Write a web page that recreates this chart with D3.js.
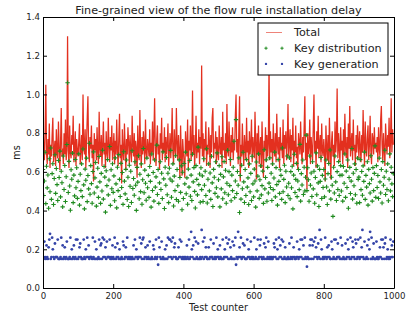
<!DOCTYPE html>
<html>
<head>
<meta charset="utf-8">
<script src="https://cdn.jsdelivr.net/npm/d3@7"></script>
<style>
  body { margin: 0; background: #fff; }
  svg { display: block; font-family: "DejaVu Sans", sans-serif; }
</style>
</head>
<body>
<div id="chart"></div>
<script>
// one sample every `step` test counters
const step = 2;

// total delay, 1/100 ms
const total = [
  90,72,66,81,105,70,64,77,69,85,62,74,68,79,88,65,71,76,63,82,70,67,86,73,61,
  75,93,68,72,64,80,69,87,66,71,130,73,62,84,70,67,79,74,89,65,72,81,63,77,70,
  68,76,85,64,71,79,66,100,73,69,82,62,75,88,99,70,65,78,72,84,67,74,55,80,71,
  77,66,83,70,64,91,72,68,79,63,74,86,69,75,62,81,70,67,88,73,65,78,71,84,66,
  72,80,64,76,69,87,71,63,78,90,67,74,54,82,70,66,85,73,61,77,69,83,75,64,79,
  71,65,89,74,68,80,63,76,72,57,84,70,66,92,73,62,78,69,81,75,64,87,70,67,77,
  73,68,82,64,75,70,86,66,79,98,71,63,77,84,69,74,61,80,72,88,66,75,70,83,65,
  78,69,74,85,63,71,80,67,76,93,70,64,82,72,68,93,75,66,79,71,57,84,69,58,77,
  70,65,57,81,73,68,87,62,76,71,84,66,74,102,69,79,63,72,89,67,75,70,82,64,78,
  72,115,68,80,65,77,71,86,63,74,69,83,76,62,79,70,88,93,67,75,72,81,64,78,70,
  66,84,73,69,78,62,91,71,75,67,80,64,95,72,68,86,74,63,79,70,83,66,76,71,89,
  100,70,77,64,82,99,55,74,68,85,71,63,79,73,66,88,70,76,62,81,69,74,87,65,78,
  72,67,91,75,56,80,69,84,64,73,78,62,86,70,57,76,71,83,65,79,68,74,118,66,81,
  70,77,63,85,72,68,80,65,90,74,69,78,62,83,71,75,67,87,64,79,72,81,66,76,95,
  68,74,82,65,79,71,88,63,76,70,84,67,73,61,80,75,69,86,72,64,78,70,83,99,66,
  75,51,80,69,73,87,64,78,71,66,83,100,70,76,62,81,72,89,67,74,79,65,85,71,68,
  77,70,55,84,73,66,79,64,88,72,56,75,81,68,74,63,86,70,77,103,67,80,72,65,83,
  71,76,64,82,69,90,73,67,78,62,85,72,94,68,75,80,66,87,71,74,63,79,70,84,76,
  67,81,73,65,79,70,92,75,63,86,72,68,78,84,66,74,89,71,64,80,77,69,83,72,75,
  70,78,65,83,72,68,87,94,74,66,80,71,63,85,76,69,79,73,88,67,75,98,70,82,74
];

// key distribution, 1/1000 ms
const keyDistribution = [
  612,478,553,701,436,629,517,584,412,668,497,723,458,591,642,431,566,688,489,617,534,452,659,571,707,
  471,603,544,419,682,509,633,447,575,741,1060,493,654,527,402,611,562,697,441,583,476,664,518,621,463,
  551,693,428,588,503,641,472,718,533,409,614,557,671,446,581,512,748,484,632,539,438,602,703,491,569,
  648,423,521,619,468,679,548,437,592,501,712,459,628,573,392,606,529,663,481,558,731,427,611,513,642,
  494,579,451,672,538,414,624,503,689,561,473,644,519,597,432,704,552,486,613,661,457,572,421,634,526,
  603,442,709,514,566,479,652,531,401,623,547,683,461,588,498,641,433,559,721,492,609,541,453,671,518,
  582,468,628,551,418,692,504,597,449,661,521,574,738,483,612,437,543,652,509,593,462,703,564,411,624,
  531,674,482,593,441,619,563,711,469,552,641,424,578,503,683,457,612,528,448,662,571,494,631,404,598,
  462,643,538,702,487,569,433,614,521,659,474,583,452,691,548,622,499,413,632,561,481,728,534,589,443,
  621,508,579,447,668,531,603,478,719,439,562,641,502,594,458,681,543,421,613,572,489,652,518,698,471,
  559,632,419,587,512,678,461,574,653,492,608,438,541,712,482,601,529,664,451,583,503,624,758,467,553,
  870,488,602,531,672,390,581,459,634,513,701,548,442,612,478,663,521,569,431,641,497,592,452,681,538,
  471,614,553,418,651,502,578,693,463,559,631,481,529,604,437,714,512,571,662,448,623,491,542,672,519,
  593,452,641,508,568,702,471,622,534,428,663,551,489,611,582,458,723,497,561,634,441,603,522,682,478,
  541,672,461,601,518,629,409,583,691,493,561,644,472,553,612,508,742,449,591,532,661,483,624,501,572,
  790,503,621,559,448,682,531,594,473,652,512,603,438,571,698,482,631,543,421,613,551,674,462,582,519,
  612,471,563,661,522,431,591,643,502,713,459,572,531,370,624,491,682,548,452,601,509,653,478,582,632,
  501,583,449,628,541,692,468,604,519,661,412,571,623,488,552,721,459,593,528,641,482,612,438,671,561,
  573,441,663,508,602,479,631,551,702,458,582,521,652,428,613,539,491,683,562,449,622,503,592,734,468,
  632,519,581,462,671,548,491,612,439,653,531,572,712,483,603,509,641,451,562,693,502,624,538,472,591
];

// key generation, 1/100 ms
const keyGeneration = [
  16,15,24,16,15,22,16,15,21,25,28,15,16,26,20,16,15,23,16,16,16,25,15,15,15,
  16,26,15,22,15,16,21,15,16,24,15,15,15,16,26,15,20,15,16,22,15,16,25,15,25,
  15,16,21,23,16,15,15,15,25,16,15,20,16,26,16,22,15,16,16,16,15,26,16,15,24,
  15,20,15,15,16,25,15,22,23,15,26,16,25,16,21,15,24,16,16,16,25,15,16,15,22,
  16,15,26,21,15,16,23,16,15,20,15,15,16,15,24,22,15,16,21,16,26,15,16,15,16,
  15,15,16,15,22,15,25,16,20,16,15,16,16,26,16,23,15,25,26,15,16,21,16,15,22,
  16,15,24,15,15,16,15,22,20,15,16,25,15,16,12,26,21,16,15,24,15,16,15,15,20,
  15,22,15,26,16,25,25,16,24,15,26,16,21,23,16,15,15,15,21,16,25,16,24,15,16,
  15,16,15,16,15,22,16,15,25,15,16,29,20,16,22,15,26,15,24,16,15,23,15,15,16,
  15,30,16,24,15,26,16,21,16,15,15,21,15,16,25,16,16,15,23,15,16,15,26,16,20,
  16,15,22,16,15,15,25,15,16,20,16,26,16,23,15,25,15,21,16,15,24,15,22,15,26,
  12,16,15,29,16,21,16,26,15,16,23,16,22,15,15,15,25,16,20,16,15,24,16,15,16,
  15,26,15,16,20,15,25,15,16,22,25,16,15,15,16,23,15,21,26,15,16,24,15,16,15,
  16,15,15,16,23,21,16,25,15,20,15,26,16,22,16,25,15,24,15,16,21,15,15,15,16,
  15,23,15,16,26,15,16,21,16,15,15,16,24,16,15,20,16,25,16,25,15,22,15,26,16,
  15,11,16,15,15,22,25,15,25,22,15,24,16,26,21,16,15,23,16,30,15,25,20,15,16,
  15,16,26,16,15,21,16,22,16,15,15,24,20,15,16,25,15,25,15,16,23,16,16,15,26,
  15,22,15,16,15,15,23,15,16,25,20,16,15,26,15,16,24,21,16,15,25,23,15,16,25,
  16,15,26,16,21,30,16,15,24,15,15,16,22,15,25,20,29,15,26,15,16,23,15,15,15,
  24,16,15,15,16,21,16,25,15,25,21,15,23,26,15,16,20,15,16,15,25,16,22,16,24
];

const seriesNames = ["Total", "Key distribution", "Key generation"];
const xTicks = [0, 200, 400, 600, 800, 1000];
const yTicks = [0, 0.2, 0.4, 0.6, 0.8, 1.0, 1.2, 1.4];

const colorTotal = "#e3301f";
const colorDist = "#1f8a1f";
const colorGen = "#3444a8";

const width = 406, height = 319;
const margin = {top: 17, right: 12, bottom: 31, left: 43};

const x = d3.scaleLinear().domain([0, 1000]).range([margin.left, width - margin.right]);
const y = d3.scaleLinear().domain([0, 1.4]).range([height - margin.bottom, margin.top]);

const svg = d3.select("#chart").append("svg")
    .attr("width", width)
    .attr("height", height);

svg.append("clipPath").attr("id", "plot")
  .append("rect")
    .attr("x", margin.left).attr("y", margin.top)
    .attr("width", width - margin.left - margin.right)
    .attr("height", height - margin.top - margin.bottom);

const plot = svg.append("g").attr("clip-path", "url(#plot)");

const line = d3.line()
    .x((d, i) => x(i * step))
    .y(d => y(d / 100));

plot.append("path")
    .datum(total)
    .attr("fill", "none")
    .attr("stroke", colorTotal)
    .attr("stroke-width", 1.25)
    .attr("d", line);

const plus = "M-2.2,0H2.2M0,-2.2V2.2";

plot.append("g")
  .selectAll("path")
  .data(keyDistribution)
  .join("path")
    .attr("transform", (d, i) => `translate(${x(i * step)},${y(d / 1000)})`)
    .attr("d", plus)
    .attr("stroke", colorDist)
    .attr("stroke-width", 1.1);

plot.append("g")
  .selectAll("circle")
  .data(keyGeneration)
  .join("circle")
    .attr("cx", (d, i) => x(i * step))
    .attr("cy", d => y(d / 100))
    .attr("r", 1.4)
    .attr("fill", colorGen);

// axes, ticks pointing inward on all four sides
function styleAxis(g) {
  g.attr("font-family", null).attr("font-size", null);
  g.selectAll("text").attr("fill", "#222").attr("font-size", 8.6);
  g.select(".domain").attr("stroke", "#000");
  g.selectAll(".tick line").attr("stroke", "#000");
}

svg.append("g")
    .attr("transform", `translate(0,${height - margin.bottom})`)
    .call(d3.axisBottom(x).tickValues(xTicks).tickSize(-4).tickSizeOuter(0).tickPadding(5).tickFormat(d3.format("d")))
    .call(styleAxis);

svg.append("g")
    .attr("transform", `translate(0,${margin.top})`)
    .call(d3.axisTop(x).tickValues(xTicks).tickSize(-4).tickSizeOuter(0).tickFormat(""))
    .call(styleAxis);

svg.append("g")
    .attr("transform", `translate(${margin.left},0)`)
    .call(d3.axisLeft(y).tickValues(yTicks).tickSize(-4).tickSizeOuter(0).tickPadding(3).tickFormat(d3.format(".1f")))
    .call(styleAxis);

svg.append("g")
    .attr("transform", `translate(${width - margin.right},0)`)
    .call(d3.axisRight(y).tickValues(yTicks).tickSize(-4).tickSizeOuter(0).tickFormat(""))
    .call(styleAxis);

// labels
svg.append("text")
    .attr("x", (margin.left + width - margin.right) / 2)
    .attr("y", 13.5)
    .attr("text-anchor", "middle")
    .attr("font-size", 11.2)
    .attr("fill", "#222")
    .text("Fine-grained view of the flow rule installation delay");

svg.append("text")
    .attr("x", (margin.left + width - margin.right) / 2)
    .attr("y", 311)
    .attr("text-anchor", "middle")
    .attr("font-size", 9.6)
    .attr("fill", "#222")
    .text("Test counter");

svg.append("text")
    .attr("transform", `translate(20,${(margin.top + height - margin.bottom) / 2}) rotate(-90)`)
    .attr("text-anchor", "middle")
    .attr("font-size", 9.6)
    .attr("fill", "#222")
    .text("ms");

// legend
const legend = svg.append("g").attr("transform", "translate(258,23)");
legend.append("rect")
    .attr("width", 130).attr("height", 52)
    .attr("fill", "#fff").attr("stroke", "#000").attr("stroke-width", 1);

const rows = legend.selectAll("g.entry")
  .data(seriesNames)
  .join("g")
    .attr("class", "entry")
    .attr("transform", (d, i) => `translate(0,${9.5 + i * 15.7})`);

rows.filter((d, i) => i === 0).append("line")
    .attr("x1", 8).attr("x2", 24)
    .attr("stroke", colorTotal).attr("stroke-opacity", 0.6).attr("stroke-width", 1);

rows.filter((d, i) => i === 1).selectAll("path")
  .data([8, 24])
  .join("path")
    .attr("transform", d => `translate(${d},0)`)
    .attr("d", "M-1.6,0H1.6M0,-1.6V1.6")
    .attr("stroke", colorDist)
    .attr("stroke-width", 1);

rows.filter((d, i) => i === 2).selectAll("circle")
  .data([8, 24])
  .join("circle")
    .attr("cx", d => d)
    .attr("r", 1.2)
    .attr("fill", colorGen);

rows.append("text")
    .attr("x", 36)
    .attr("dy", "0.35em")
    .attr("font-size", 11.2)
    .attr("fill", "#222")
    .text(d => d);
</script>
</body>
</html>
